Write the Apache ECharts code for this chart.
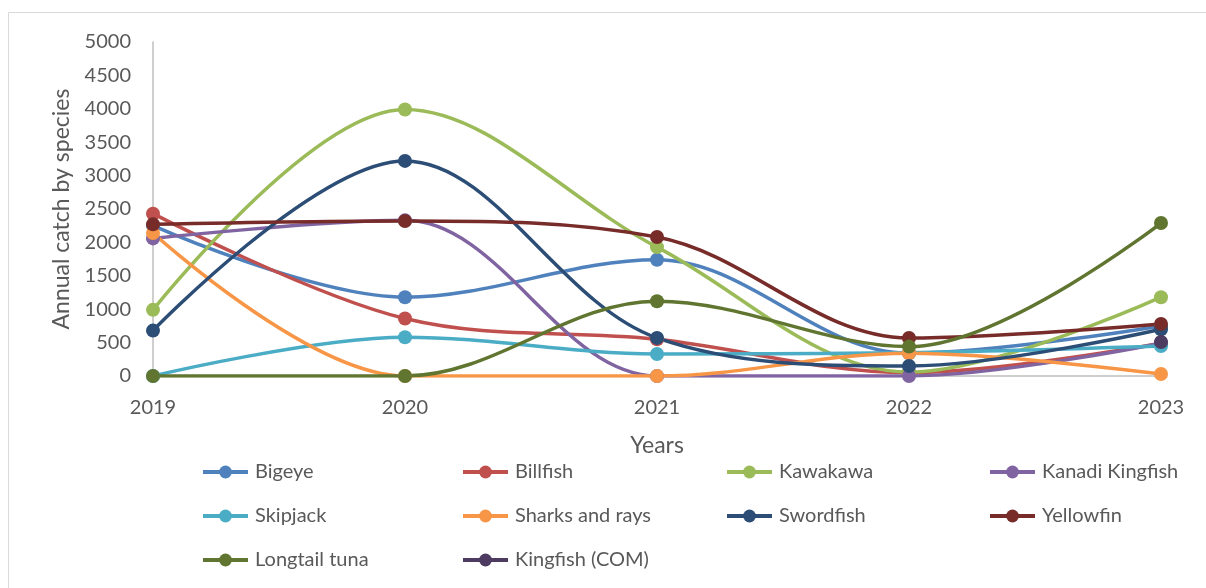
<!DOCTYPE html>
<html>
<head>
<meta charset="utf-8">
<script src="https://cdn.jsdelivr.net/npm/echarts@6/dist/echarts.min.js"></script>
<style>
  html, body { margin: 0; padding: 0; background: #ffffff; }
  #chart { width: 1206px; height: 588px; }
</style>
</head>
<body>
<div id="chart"></div>
<script>
// Annual catch by species, 2019–2023
const years = ['2019', '2020', '2021', '2022', '2023'];
const yTicks = { min: 0, max: 5000, interval: 500 };

const bigeye        = [2250, 1180, 1740, 340, 750];
const billfish      = [2430, 860, 550, 50, 490];
const kawakawa      = [990, 3990, 1930, 60, 1180];
const kanadiKingfish= [2060, 2330, 0, 0, 490];
const skipjack      = [0, 580, 330, 350, 450];
const sharksRays    = [2140, 0, 0, 340, 30];
const swordfish     = [680, 3220, 570, 150, 700];
const yellowfin     = [2270, 2320, 2080, 570, 780];
const longtailTuna  = [0, 0, 1120, 440, 2290];
const kingfishCom   = [null, null, null, null, 510];

const seriesDefs = [
  { name: 'Bigeye', data: bigeye, color: '#4F81BD' },
  { name: 'Billfish', data: billfish, color: '#C0504D' },
  { name: 'Kawakawa', data: kawakawa, color: '#9BBB59' },
  { name: 'Kanadi Kingfish', data: kanadiKingfish, color: '#8064A2' },
  { name: 'Skipjack', data: skipjack, color: '#4BACC6' },
  { name: 'Sharks and rays', data: sharksRays, color: '#F79646' },
  { name: 'Swordfish', data: swordfish, color: '#2C4D75' },
  { name: 'Yellowfin', data: yellowfin, color: '#772C2A' },
  { name: 'Longtail tuna', data: longtailTuna, color: '#5F7530' },
  { name: 'Kingfish (COM)', data: kingfishCom, color: '#4D3B62' }
];

const FONT = 'Lato, "Open Sans", sans-serif';
const TEXT = '#595959';

const legendColumns = [
  { left: 196, names: ['Bigeye', 'Skipjack', 'Longtail tuna'] },
  { left: 456, names: ['Billfish', 'Sharks and rays', 'Kingfish (COM)'] },
  { left: 720, names: ['Kawakawa', 'Swordfish'] },
  { left: 983, names: ['Kanadi Kingfish', 'Yellowfin'] }
];

const chart = echarts.init(document.getElementById('chart'), null, { renderer: 'canvas' });

chart.setOption({
  backgroundColor: '#ffffff',
  animation: false,
  graphic: [{
    type: 'rect',
    shape: { x: 8.5, y: 12.5, width: 1210, height: 600 },
    style: { fill: 'none', stroke: '#d9d9d9', lineWidth: 1 },
    silent: true
  }],
  grid: { left: 153, right: 45, top: 42, bottom: 212, containLabel: false },
  legend: legendColumns.map(col => ({
    data: col.names,
    orient: 'vertical',
    left: col.left,
    top: 457,
    itemGap: 24,
    itemWidth: 45,
    itemHeight: 16,
    lineStyle: { width: 4 },
    textStyle: { color: TEXT, fontSize: 20, fontFamily: FONT, padding: [0, 0, 0, 2] },
    selectedMode: false
  })),
  xAxis: {
    type: 'category',
    data: years,
    boundaryGap: false,
    name: 'Years',
    nameLocation: 'middle',
    nameGap: 58,
    nameTextStyle: { color: TEXT, fontSize: 23, fontFamily: FONT },
    axisLine: { show: true, lineStyle: { color: '#bfbfbf', width: 1.5 } },
    axisTick: { show: false },
    axisLabel: { color: TEXT, fontSize: 20, fontFamily: FONT, margin: 22 },
    splitLine: { show: false }
  },
  yAxis: {
    type: 'value',
    min: yTicks.min,
    max: yTicks.max,
    interval: yTicks.interval,
    name: 'Annual catch by species',
    nameLocation: 'middle',
    nameGap: 80,
    nameTextStyle: { color: TEXT, fontSize: 23, fontFamily: FONT },
    axisLine: { show: true, lineStyle: { color: '#bfbfbf', width: 1.5 } },
    axisTick: { show: false },
    axisLabel: { color: TEXT, fontSize: 20, fontFamily: FONT, margin: 22, formatter: v => String(v) },
    splitLine: { show: false }
  },
  series: seriesDefs.map(s => ({
    name: s.name,
    type: 'line',
    data: s.data,
    smooth: 0.35,
    connectNulls: false,
    symbol: 'circle',
    symbolSize: 14,
    showSymbol: true,
    showAllSymbol: true,
    color: s.color,
    itemStyle: { color: s.color },
    lineStyle: { color: s.color, width: 3.5 }
  }))
});
</script>
</body>
</html>
